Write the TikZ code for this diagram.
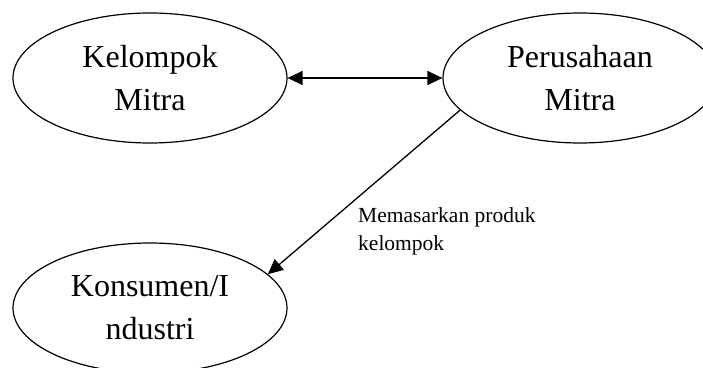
\documentclass[tikz,border=0pt]{standalone}
\usepackage{fontspec}
\setmainfont{Liberation Serif}
\usetikzlibrary{shapes.geometric,arrows.meta}

\begin{document}
\begin{tikzpicture}[x=1pt, y=1pt,
  party/.style={draw, ellipse, line width=1.2pt, inner sep=0pt,
    minimum width=274pt, minimum height=130pt, align=center,
    font=\fontsize{32}{43}\selectfont},
  flow/.style={line width=1.3pt, -{Triangle[length=15pt, width=14pt]}},
  twoflow/.style={line width=1.3pt,
    {Triangle[length=15pt, width=14pt]}-{Triangle[length=15pt, width=14pt]}}]

  \useasboundingbox (0,0) rectangle (703,367);

  \node[party] (km) at (150, 289) {Kelompok\\Mitra};
  \node[party] (pm) at (580, 289) {Perusahaan\\Mitra};
  \node[party] (ki) at (150, 59) {Konsumen/I\\ndustri};

  \draw[twoflow] (km.east) -- (pm.west); %% KM<->PM
  \draw[flow] (pm.195.6) -- (ki.16); %% PM->KI

  \node[anchor=base west, align=left, inner sep=0pt,
    font=\fontsize{21.5}{28}\selectfont] (jual) at (358, 117)
    {Memasarkan produk\\kelompok};
\end{tikzpicture}
\end{document}
